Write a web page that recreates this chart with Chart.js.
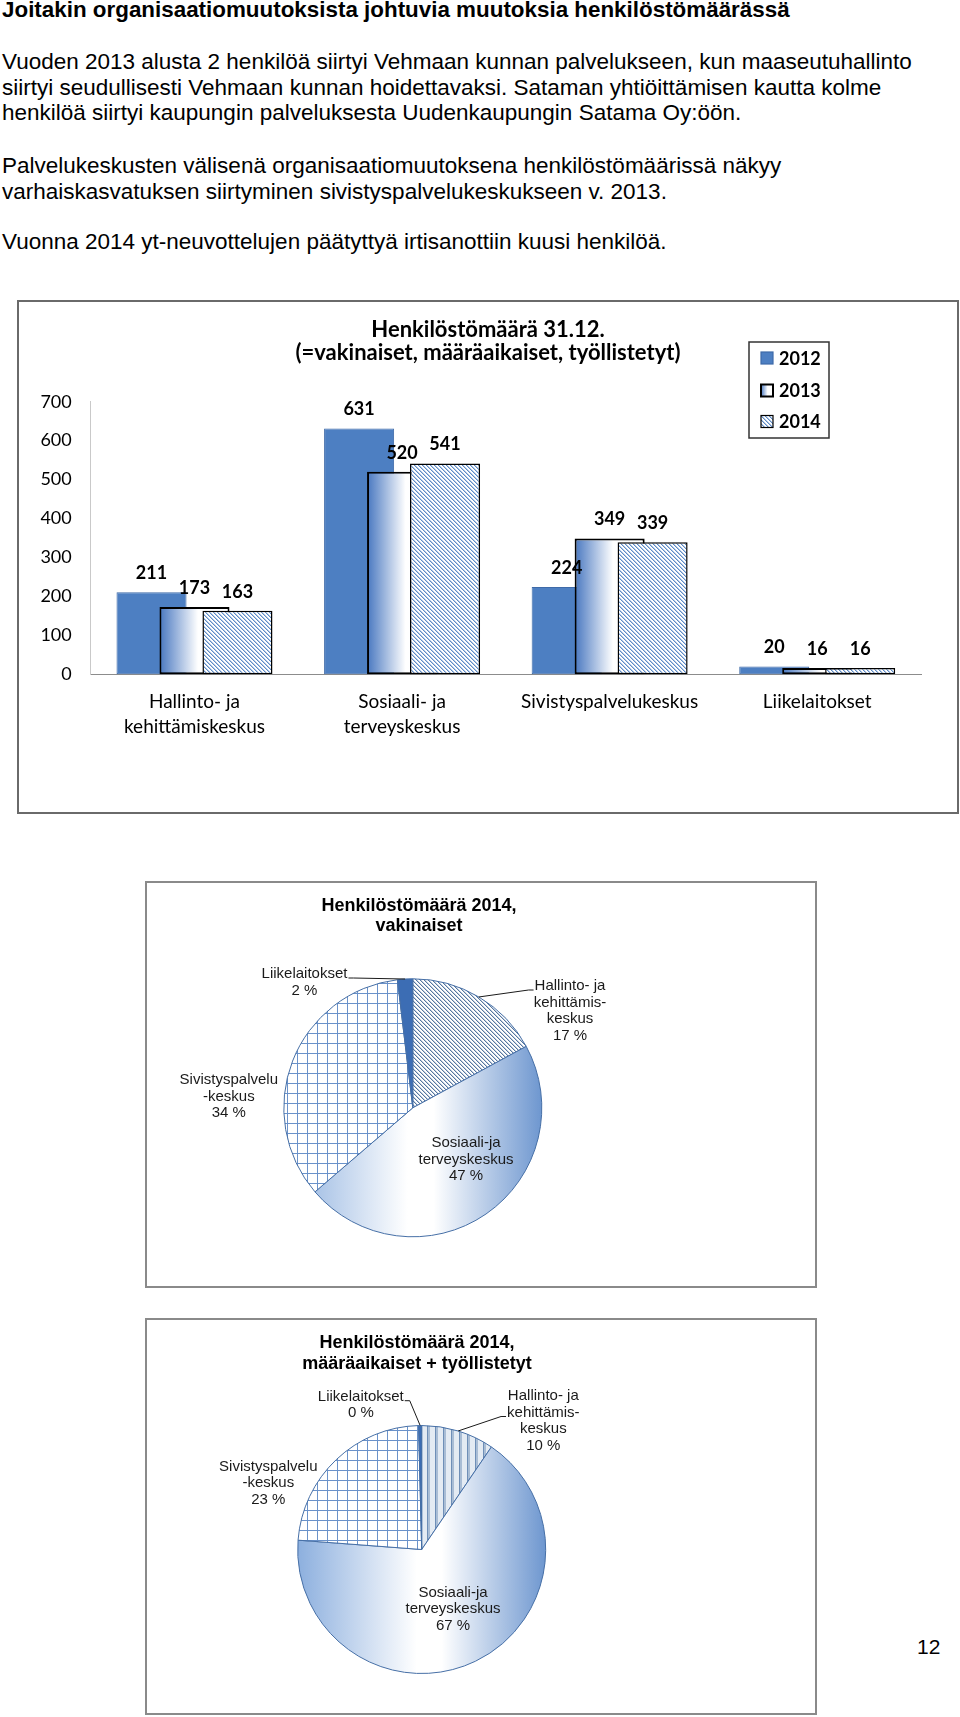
<!DOCTYPE html>
<html>
<head>
<meta charset="utf-8">
<script src="https://cdn.jsdelivr.net/npm/chart.js@4.4.0/dist/chart.umd.min.js"></script>
<style>
  body { margin: 0; background: #fff; width: 960px; height: 1717px; position: relative; overflow: hidden;
         font-family: "Liberation Sans", Arial, sans-serif; color: #000; }
  h1 { position: absolute; left: 2px; top: -2px; margin: 0; font-size: 22.4px; line-height: 24px; white-space: nowrap; }
  .txt { position: absolute; left: 2px; margin: 0; font-size: 22.5px; line-height: 25.5px; white-space: nowrap; }
  .frame { position: absolute; border: 2px solid #6a6a6a; background: #fff; }
  .frame canvas { position: absolute; left: 0; top: 0; }
  #page { position: absolute; left: 917px; top: 1634px; font-size: 21px; line-height: 26px; }
</style>
</head>
<body>
<h1>Joitakin organisaatiomuutoksista johtuvia muutoksia henkilöstömäärässä</h1>
<p class="txt" style="top:49px">Vuoden 2013 alusta 2 henkilöä siirtyi Vehmaan kunnan palvelukseen, kun maaseutuhallinto<br>siirtyi seudullisesti Vehmaan kunnan hoidettavaksi. Sataman yhtiöittämisen kautta kolme<br>henkilöä siirtyi kaupungin palveluksesta Uudenkaupungin Satama Oy:öön.</p>
<p class="txt" style="top:153px">Palvelukeskusten välisenä organisaatiomuutoksena henkilöstömäärissä näkyy<br>varhaiskasvatuksen siirtyminen sivistyspalvelukeskukseen v. 2013.</p>
<p class="txt" style="top:229px">Vuonna 2014 yt-neuvottelujen päätyttyä irtisanottiin kuusi henkilöä.</p>

<div class="frame" style="left:17px;top:300px;width:938px;height:510px">
  <canvas id="bar" width="938" height="510" style="width:938px;height:510px"></canvas>
</div>
<div class="frame" style="left:145px;top:881px;width:668px;height:403px;border-color:#8a8a8a">
  <canvas id="pie1" width="668" height="403" style="width:668px;height:403px"></canvas>
</div>
<div class="frame" style="left:145px;top:1318px;width:668px;height:393px;border-color:#8a8a8a">
  <canvas id="pie2" width="668" height="393" style="width:668px;height:393px"></canvas>
</div>
<div id="page">12</div>

<script>
// bar chart data
const units = [['Hallinto- ja', 'kehittämiskeskus'], ['Sosiaali- ja', 'terveyskeskus'], 'Sivistyspalvelukeskus', 'Liikelaitokset'];
const years = ['2012', '2013', '2014'];
const staff2012 = [211, 631, 224, 20];
const staff2013 = [173, 520, 349, 16];
const staff2014 = [163, 541, 339, 16];
const barTitle = ['Henkilöstömäärä 31.12.', '(=vakinaiset, määräaikaiset, työllistetyt)'];

// pie chart data (percent shares, order: Hallinto, Sosiaali, Sivistys, Liikelaitokset)
const pieNames = [['Hallinto- ja', 'kehittämis-', 'keskus'], ['Sosiaali-ja', 'terveyskeskus'], ['Sivistyspalvelu', '-keskus'], ['Liikelaitokset']];
const permanent2014 = [17.1, 46.6, 34.4, 1.9];
const temporary2014 = [9.5, 66.7, 23.4, 0.4];
const pie1Title = ['Henkilöstömäärä 2014,', 'vakinaiset'];
const pie2Title = ['Henkilöstömäärä 2014,', 'määräaikaiset + työllistetyt'];

const calibri = 'Lato, "Liberation Sans", sans-serif';
const arial = '"Liberation Sans", Arial, sans-serif';

function tile(w, h, paint) {
    const c = document.createElement('canvas');
    c.width = w; c.height = h;
    const g = c.getContext('2d');
    g.fillStyle = '#fff';
    g.fillRect(0, 0, w, h);
    paint(g);
    return c;
}

// "\" hatch: one strong pixel and one soft pixel per row
function diagonal(size, strong, soft) {
    return tile(size, size, g => {
        for (let i = 0; i < size; i++) {
            g.fillStyle = strong;
            g.fillRect(i, i, 1, 1);
            g.fillStyle = soft;
            g.fillRect((i + 1) % size, i, 1, 1);
        }
    });
}

const gridTile = tile(10, 10, g => {
    g.fillStyle = '#6a92ca';
    g.fillRect(0, 0, 10, 1);
    g.fillRect(0, 0, 1, 10);
});

const stripeTile = tile(8, 1, g => {
    g.fillStyle = '#e4ebf3'; g.fillRect(3, 0, 5, 1);
    g.fillStyle = '#a9bdd5'; g.fillRect(1, 0, 2, 1);
    g.fillStyle = '#6f8fb7'; g.fillRect(0, 0, 1, 1);
});

// ---------- bar chart ----------
const barCtx = document.getElementById('bar').getContext('2d');
const hatch2014 = barCtx.createPattern(diagonal(4, '#5f8cc7', '#b3c9e6'), 'repeat');

function fade(ctx, x0, x1) {
    const g = ctx.createLinearGradient(x0, 0, x1, 0);
    g.addColorStop(0, '#4877c0');
    g.addColorStop(0.55, '#ffffff');
    g.addColorStop(1, '#ffffff');
    return g;
}

// later series lie on top of earlier ones, like the original
const layers = {
    id: 'layers',
    beforeDatasetDraw: () => false,
    afterDatasetsDraw(chart) {
        const ctx = chart.ctx;
        chart.data.datasets.forEach((ds, i) => {
            chart.getDatasetMeta(i).data.forEach(bar => {
                if (i === 1) {
                    const saved = bar.options;
                    bar.options = Object.assign({}, saved, {backgroundColor: fade(ctx, bar.x - bar.width / 2, bar.x + bar.width / 2)});
                    bar.draw(ctx, chart.chartArea);
                    bar.options = saved;
                } else {
                    bar.draw(ctx, chart.chartArea);
                }
            });
        });
    }
};

const barValues = {
    id: 'barValues',
    afterDatasetsDraw(chart) {
        const ctx = chart.ctx;
        ctx.save();
        ctx.font = 'bold 18px ' + calibri;
        ctx.fillStyle = '#000';
        ctx.textAlign = 'center';
        ctx.textBaseline = 'middle';
        chart.data.datasets.forEach((ds, i) => {
            chart.getDatasetMeta(i).data.forEach((bar, j) => {
                ctx.fillText(ds.data[j], bar.x, bar.y - 19);
            });
        });
        ctx.restore();
    }
};

// title and boxed legend, placed where the original has them
const titleAndLegend = {
    id: 'titleAndLegend',
    afterDraw(chart) {
        const ctx = chart.ctx;
        ctx.save();
        ctx.fillStyle = '#000';
        ctx.textAlign = 'center';
        ctx.textBaseline = 'middle';
        ctx.font = 'bold 22px ' + calibri;
        barTitle.forEach((t, k) => ctx.fillText(t, 469, 28 + k * 23));

        ctx.textAlign = 'left';
        ctx.strokeStyle = '#333';
        ctx.lineWidth = 1.5;
        ctx.strokeRect(730, 40, 80, 96);
        ctx.font = 'bold 18px ' + calibri;
        const rows = [56, 88.5, 119.5];
        chart.data.datasets.forEach((ds, i) => {
            const y = rows[i];
            ctx.fillStyle = i === 1 ? fade(ctx, 742, 754) : ds.backgroundColor;
            ctx.fillRect(742, y - 6, 12, 12);
            ctx.strokeStyle = i === 0 ? '#3e6aa8' : '#000';
            ctx.lineWidth = i === 1 ? 2 : 1.2;
            ctx.strokeRect(742, y - 6, 12, 12);
            ctx.fillStyle = '#000';
            ctx.fillText(ds.label, 760, y + 1);
        });
        ctx.restore();
    }
};

new Chart(barCtx, {
    type: 'bar',
    data: {
        labels: units,
        datasets: [
            {label: years[0], data: staff2012, backgroundColor: '#4d7fc2', borderColor: '#3e6aa8', borderWidth: 1},
            {label: years[1], data: staff2013, backgroundColor: '#ffffff', borderColor: '#000', borderWidth: 2},
            {label: years[2], data: staff2014, backgroundColor: hatch2014, borderColor: '#000', borderWidth: 1.5}
        ]
    },
    options: {
        responsive: false,
        animation: false,
        devicePixelRatio: 1,
        categoryPercentage: 0.621,
        barPercentage: 1.63,
        borderSkipped: false,
        layout: {padding: {left: 0, right: 36, top: 99.7, bottom: 0}},
        plugins: {
            legend: {display: false},
            tooltip: {enabled: false},
            title: {display: false}
        },
        scales: {
            x: {
                grid: {display: false, drawTicks: false},
                border: {color: '#8c8c8c', width: 1},
                ticks: {color: '#000', font: {family: calibri, size: 19, lineHeight: 25 / 19}, padding: 15, maxRotation: 0, autoSkip: false},
                afterFit: s => { s.height = 137.7; }
            },
            y: {
                min: 0,
                max: 700,
                grid: {display: false, drawTicks: false},
                border: {color: '#c9c9c9', width: 1},
                ticks: {stepSize: 100, color: '#000', font: {family: calibri, size: 18}, padding: 19},
                afterFit: s => { s.width = 71.7; }
            }
        }
    },
    plugins: [layers, barValues, titleAndLegend]
});

// ---------- pie charts ----------
function pieText(title, values, spots, titleAt) {
    return {
        id: 'pieText',
        afterDatasetsDraw(chart) {
            const ctx = chart.ctx;
            ctx.save();
            ctx.fillStyle = '#000';
            ctx.textAlign = 'center';
            ctx.textBaseline = 'middle';
            ctx.font = 'bold 18px ' + arial;
            title.forEach((t, k) => ctx.fillText(t, titleAt.x, titleAt.y + k * 20.5));

            ctx.font = '15px ' + arial;
            ctx.fillStyle = '#1a1a1a';
            ctx.strokeStyle = '#1a1a1a';
            ctx.lineWidth = 1;
            chart.getDatasetMeta(0).data.forEach((arc, i) => {
                const spot = spots[i];
                const lines = pieNames[i].concat(Math.round(values[i]) + ' %');
                const x = arc.x + spot.dx;
                const y = arc.y + spot.dy;
                lines.forEach((t, k) => ctx.fillText(t, x, y + k * 16.5));
                if (spot.leader) {
                    const k = spot.leader.line;
                    const w = ctx.measureText(lines[k]).width;
                    const left = spot.leader.side === 'left';
                    const sx = left ? x - w / 2 - 1 : x + w / 2 + 1;
                    const sy = y + k * 16.5 + 4;
                    const mid = (arc.startAngle + arc.endAngle) / 2;
                    ctx.beginPath();
                    ctx.moveTo(sx, sy);
                    ctx.lineTo(sx + (left ? -5 : 5), sy);
                    ctx.lineTo(arc.x + Math.cos(mid) * arc.outerRadius, arc.y + Math.sin(mid) * arc.outerRadius);
                    ctx.stroke();
                }
            });
            ctx.restore();
        }
    };
}

function pie(id, values, box, hallintoFill, title, titleAt, spots) {
    const canvas = document.getElementById(id);
    const ctx = canvas.getContext('2d');
    const W = canvas.width, H = canvas.height;
    const grad = ctx.createLinearGradient(box.cx - box.r, 0, box.cx + box.r, 0);
    grad.addColorStop(0, '#8cafde');
    grad.addColorStop(0.48, '#ffffff');
    grad.addColorStop(0.58, '#ffffff');
    grad.addColorStop(1, '#6d96cf');
    const fills = [ctx.createPattern(hallintoFill, 'repeat'), grad, ctx.createPattern(gridTile, 'repeat'), '#3c6db4'];
    return new Chart(ctx, {
        type: 'pie',
        data: {
            labels: pieNames.map(n => n.join(' ')),
            datasets: [{data: values, backgroundColor: fills, borderColor: '#466fa6', borderWidth: 1}]
        },
        options: {
            responsive: false,
            animation: false,
            devicePixelRatio: 1,
            layout: {padding: {left: box.cx - box.r, right: W - box.cx - box.r, top: box.cy - box.r, bottom: H - box.cy - box.r}},
            plugins: {legend: {display: false}, tooltip: {enabled: false}}
        },
        plugins: [pieText(title, values, spots, titleAt)]
    });
}

pie('pie1', permanent2014, {cx: 265.8, cy: 224.8, r: 129.5}, diagonal(4, '#56779f', '#c3cfdf'), pie1Title, {x: 272, y: 23},
    [{dx: 157.2, dy: -121.8, leader: {line: 0, side: 'left'}},
     {dx: 53.2, dy: 35.5},
     {dx: -184, dy: -27.8},
     {dx: -108.3, dy: -133.8, leader: {line: 0, side: 'right'}}]);

pie('pie2', temporary2014, {cx: 274.7, cy: 229.5, r: 124.5}, stripeTile, pie2Title, {x: 270, y: 23.3},
    [{dx: 121.6, dy: -153.5, leader: {line: 1, side: 'left'}},
     {dx: 31.3, dy: 43.2},
     {dx: -153.4, dy: -82.8},
     {dx: -60.9, dy: -152.8, leader: {line: 0, side: 'right'}}]);
</script>
</body>
</html>
